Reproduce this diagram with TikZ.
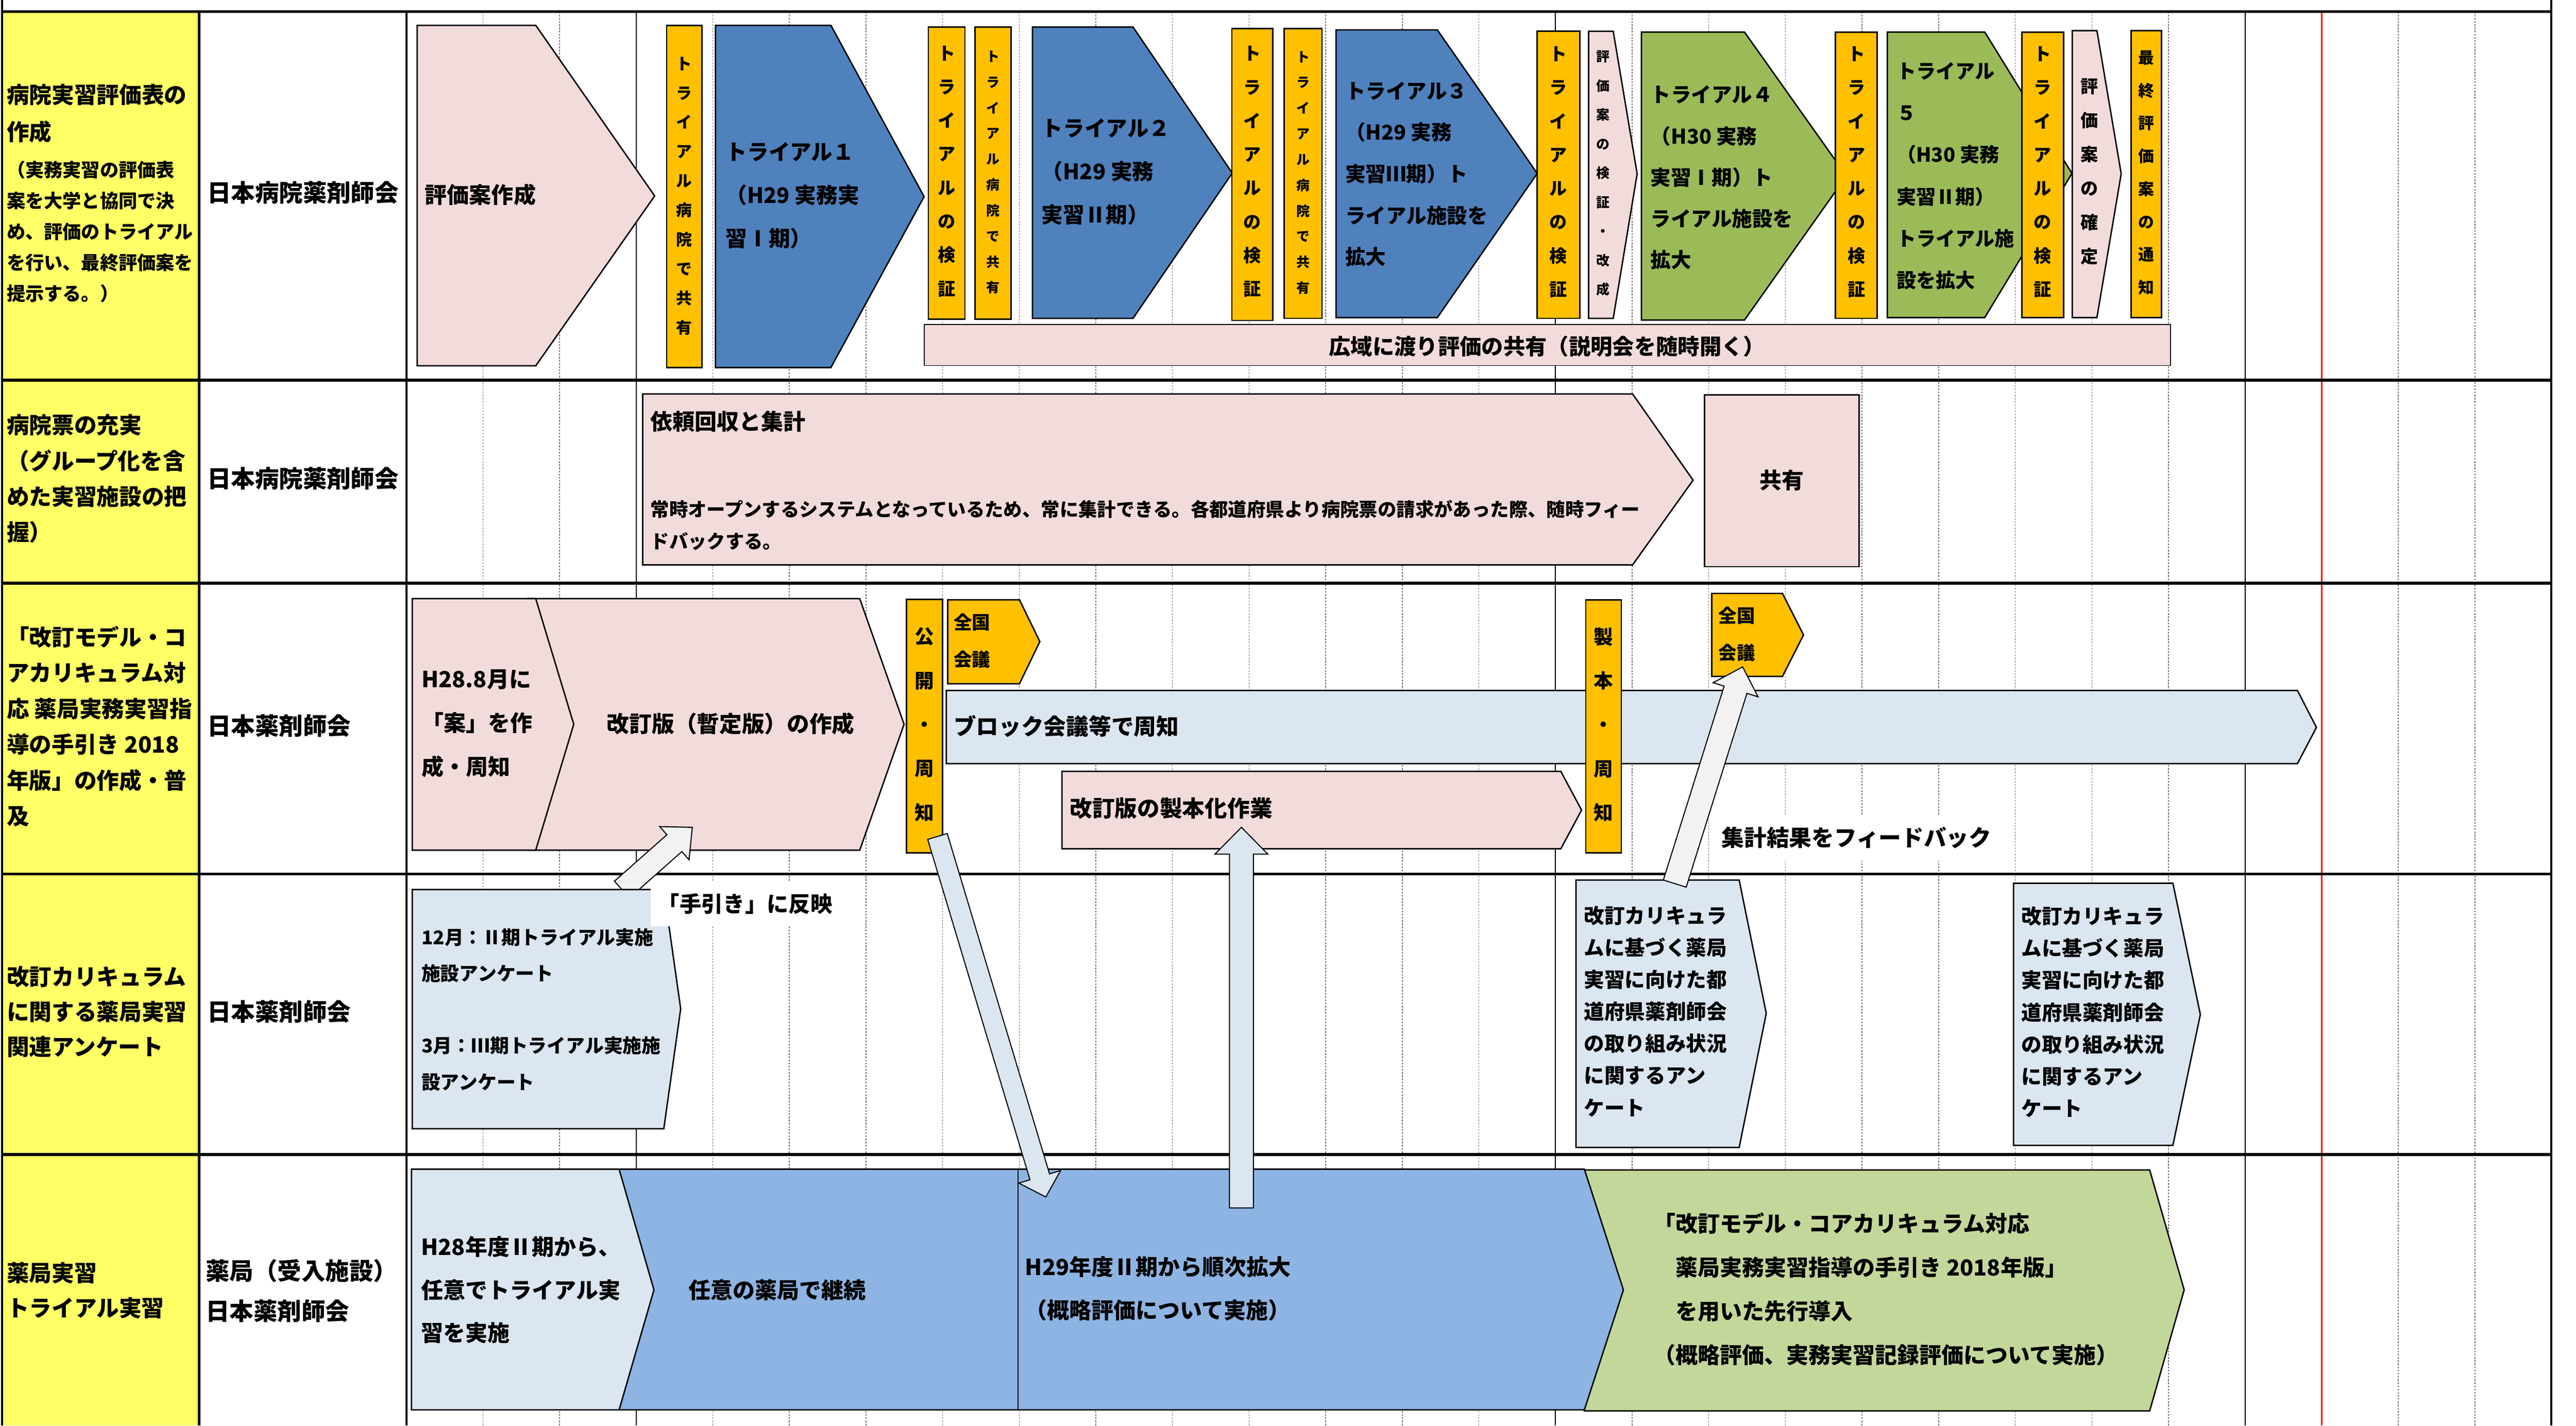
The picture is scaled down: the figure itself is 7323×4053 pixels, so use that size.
\documentclass[tikz,border=0pt]{standalone}
\usepackage{fontspec}
\setmainfont{Noto Sans CJK JP}
\usetikzlibrary{calc}
\definecolor{cYel}{HTML}{FFFF66}
\definecolor{cPink}{HTML}{F2DCDB}
\definecolor{cOra}{HTML}{FFC000}
\definecolor{cBlue}{HTML}{4F81BD}
\definecolor{cGreen}{HTML}{9BBB59}
\definecolor{cLBlue}{HTML}{DCE6F1}
\definecolor{cMBlue}{HTML}{8DB4E2}
\definecolor{cLGreen}{HTML}{C4D79B}
\definecolor{cGray}{HTML}{F2F2F2}
\newcommand\fsz[2]{\fontsize{#1}{#2}\selectfont}
\tikzset{
  shp/.style={draw=black, line width=4pt, line join=miter},
  gridd/.style={draw=black!55, line width=2pt, dash pattern=on 5pt off 4pt},
  grids/.style={draw=black, line width=3pt},
  rowline/.style={draw=black, line width=8pt},
  tl/.style 2 args={inner sep=0pt, anchor=west, align=left, font=\bfseries\fsz{#1}{#2}},
  tv/.style 2 args={inner sep=0pt, anchor=center, align=center, font=\bfseries\fsz{#1}{#2}},
  wbox/.style 2 args={fill=white, inner xsep=20pt, inner ysep=35pt, anchor=west, font=\bfseries\fsz{#1}{#2}},
}
% pentagon: fill, x-left, y-top, y-bottom, x-shoulder, x-tip, y-tip
\newcommand\pentshape[7]{\filldraw[shp, fill=#1] (#2,#3) -- (#5,#3) -- (#6,#7) -- (#5,#4) -- (#2,#4) -- cycle;}
% block arrow: fill, from, to, shaft half width, head half width, head length
\newcommand\blkarrow[6]{%
  \coordinate (bah) at ($(#3)!#6!(#2)$);
  \filldraw[fill=#1, draw=black, line width=3pt, line join=miter]
    ($(#2)!#4!90:(#3)$) -- ($(bah)!#4!90:(#3)$) -- ($(bah)!#5!90:(#3)$) -- (#3)
    -- ($(bah)!#5!-90:(#3)$) -- ($(bah)!#4!-90:(#3)$) -- ($(#2)!#4!-90:(#3)$) -- cycle;}
\begin{document}
\begin{tikzpicture}[x=1pt,y=-1pt]
\useasboundingbox (0,0) rectangle (7323,4053);
% ---------- background grid ----------
\fill[cYel] (6,33) rectangle (566,4053);
\foreach \k in {1,2,4,5,6,7,8,9,10,11,12,13,14,16,17,18,19,20,21,22,23,26,27}
  \draw[gridd] ({1155+217.8*\k},33) -- ({1155+217.8*\k},4053);
\foreach \k in {3,15,24}
  \draw[grids] ({1155+217.8*\k},33) -- ({1155+217.8*\k},4053);
\draw[red, line width=4pt] ({1155+217.8*25},33) -- ({1155+217.8*25},4053);
\draw[line width=6pt] (566,33) -- (566,4053);
\draw[line width=6pt] (1155,33) -- (1155,4053);
\draw[line width=7pt] (6,0) -- (6,4053);
\draw[line width=6pt] (7253,0) -- (7253,4053);
\foreach \yy in {33,1081,1658,2485,3282}
  \draw[rowline] (6,\yy) -- (7253,\yy);

% ---------- label columns ----------
\node[tl={64}{105}] (l1a) at (19,323) {病院実習評価表の\\作成};
\node[tl={53}{88}] (l1b) at (19,659) {（実務実習の評価表\\案を大学と協同で決\\め、評価のトライアル\\を行い、最終評価案を\\提示する。）};
\node[tl={68}{80}] (o1) at (589,548) {日本病院薬剤師会};
\node[tl={64}{101.3}] (l2) at (19,1361) {病院票の充実\\（グループ化を含\\めた実習施設の把\\握）};
\node[tl={68}{80}] (o2) at (589,1361) {日本病院薬剤師会};
\node[tl={64}{101.8}] (l3) at (19,2065) {「改訂モデル・コ\\アカリキュラム対\\応 薬局実務実習指\\導の手引き 2018\\年版」の作成・普\\及};
\node[tl={68}{80}] (o3) at (589,2064) {日本薬剤師会};
\node[tl={64}{100}] (l4) at (19,2876) {改訂カリキュラム\\に関する薬局実習\\関連アンケート};
\node[tl={68}{80}] (o4) at (589,2876) {日本薬剤師会};
\node[tl={64}{100}] (l5) at (19,3669) {薬局実習\\トライアル実習};
\node[tl={68}{115}] (o5) at (585,3670) {薬局（受入施設）\\日本薬剤師会};

% ---------- row 1 ----------
\pentshape{cPink}{1186}{72}{1040}{1523}{1861}{557}
\filldraw[shp, fill=cOra] (1895,72) rectangle (1995,1045);
\pentshape{cBlue}{2034}{72}{1045}{2362}{2627}{559}
\filldraw[shp, fill=cOra] (2639,77) rectangle (2743,907);
\filldraw[shp, fill=cOra] (2772,77) rectangle (2874,907);
\pentshape{cBlue}{2935}{77}{905}{3221}{3503}{492}
\filldraw[shp, fill=cOra] (3502,81) rectangle (3618,911);
\filldraw[shp, fill=cOra] (3650,81) rectangle (3758,905);
\pentshape{cBlue}{3798}{85}{903}{4086}{4370}{493}
\filldraw[shp, fill=cOra] (4370,89) rectangle (4491,905);
\pentshape{cPink}{4516}{89}{905}{4586}{4654}{494}
\pentshape{cGreen}{4666}{91}{910}{4959}{5249}{500}
\filldraw[shp, fill=cOra] (5218,91) rectangle (5336,905);
\pentshape{cGreen}{5365}{91}{903}{5642}{5890}{493}
\filldraw[shp, fill=cOra] (5748,91) rectangle (5866,903);
\pentshape{cPink}{5891}{87}{903}{5961}{6030}{494}
\filldraw[shp, fill=cOra] (6058,87) rectangle (6145,903);
\filldraw[draw=black, line width=2.5pt, fill=cPink] (2627,923) rectangle (6170,1039);

\node[tl={63}{80}] (r1a) at (1208,554) {評価案作成};
\node[tv={45}{83.3}] (r1b) at (1945,557) {ト\\ラ\\イ\\ア\\ル\\病\\院\\で\\共\\有};
\node[tl={61}{123}] (r1c) at (2063,556) {トライアル１\\（H29 実務実\\習Ⅰ期）};
\node[tv={50}{95.6}] (r1d) at (2691,487) {ト\\ラ\\イ\\ア\\ル\\の\\検\\証};
\node[tv={38}{73}] (r1e) at (2823,490) {ト\\ラ\\イ\\ア\\ル\\病\\院\\で\\共\\有};
\node[tl={61}{123}] (r1f) at (2961,488) {トライアル２\\（H29 実務\\実習Ⅱ期）};
\node[tv={50}{95.6}] (r1g) at (3560,488) {ト\\ラ\\イ\\ア\\ル\\の\\検\\証};
\node[tv={38}{73}] (r1h) at (3704,491) {ト\\ラ\\イ\\ア\\ル\\病\\院\\で\\共\\有};
\node[tl={58}{118}] (r1i) at (3824,495) {トライアル３\\（H29 実務\\実習Ⅲ期）ト\\ライアル施設を\\拡大};
\node[tv={50}{95.6}] (r1j) at (4430,489) {ト\\ラ\\イ\\ア\\ル\\の\\検\\証};
\node[tv={38}{82.75}] (r1k) at (4557,493) {評\\価\\案\\の\\検\\証\\・\\改\\成};
\node[tl={58}{117.5}] (r1l) at (4692,505) {トライアル４\\（H30 実務\\実習Ⅰ期）ト\\ライアル施設を\\拡大};
\node[tv={50}{95.6}] (r1m) at (5277,489) {ト\\ラ\\イ\\ア\\ル\\の\\検\\証};
\node[tl={56}{119}] (r1n) at (5391,500) {トライアル\\５\\（H30 実務\\実習Ⅱ期）\\トライアル施\\設を拡大};
\node[tv={50}{95.6}] (r1o) at (5807,489) {ト\\ラ\\イ\\ア\\ル\\の\\検\\証};
\node[tv={50}{96.8}] (r1p) at (5939,488) {評\\価\\案\\の\\確\\定};
\node[tv={45}{93.3}] (r1q) at (6101,491) {最\\終\\評\\価\\案\\の\\通\\知};
\node[tv={62}{80}] (r1r) at (4398,985) {広域に渡り評価の共有（説明会を随時開く）};

% ---------- row 2 ----------
\pentshape{cPink}{1827}{1120}{1606}{4641}{4813}{1365}
\filldraw[shp, fill=cPink] (4846,1123) rectangle (5285,1611);
\node[tl={63}{80}] (r2a) at (1849,1199) {依頼回収と集計};
\node[tl={53.3}{92}] (r2b) at (1849,1493) {常時オープンするシステムとなっているため、常に集計できる。各都道府県より病院票の請求があった際、随時フィー\\ドバックする。};
\node[tv={63}{80}] (r2c) at (5065,1365) {共有};

% ---------- row 3 ----------
\pentshape{cPink}{1500}{1702}{2417}{2444}{2570}{2059}
\pentshape{cPink}{1172}{1702}{2417}{1523}{1631}{2059}
\filldraw[shp, fill=cOra] (2577,1704) rectangle (2679,2425);
\pentshape{cOra}{2694}{1705}{1944}{2898}{2956}{1824}
\pentshape{cLBlue}{2690}{1963}{2171}{6531}{6585}{2068}
\pentshape{cPink}{3019}{2193}{2413}{4437}{4496}{2303}
\filldraw[shp, fill=cOra] (4508,1705) rectangle (4609,2425);
\pentshape{cOra}{4866}{1687}{1923}{5067}{5127}{1805}

\node[tl={63}{124.5}] (r3a) at (1198,2057) {H28.8月に\\「案」を作\\成・周知};
\node[tl={64}{80}] (r3b) at (1725,2057) {改訂版（暫定版）の作成};
\node[tv={55}{125}] (r3c) at (2628,2060) {公\\開\\・\\周\\知};
\node[tl={52}{106}] (r3d) at (2711,1822) {全国\\会議};
\node[tl={64}{80}] (r3e) at (2711,2065) {ブロック会議等で周知};
\node[tl={64}{80}] (r3f) at (3041,2298) {改訂版の製本化作業};
\node[tv={55}{125}] (r3g) at (4558,2060) {製\\本\\・\\周\\知};
\node[tl={52}{106}] (r3h) at (4885,1803) {全国\\会議};
\node[wbox={64}{80}] (r3i) at (4874,2382) {集計結果をフィードバック};

% ---------- row 4 ----------
\coordinate (a1s) at (1768,2529);
\coordinate (a1e) at (1968,2352);
\blkarrow{cGray}{a1s}{a1e}{32pt}{63pt}{68pt}
\pentshape{cLBlue}{1172}{2529}{3209}{1887}{1935}{2868}
\pentshape{cLBlue}{4480}{2502}{3262}{4944}{5021}{2881}
\pentshape{cLBlue}{5724}{2511}{3256}{6177}{6255}{2884}
\node[tl={54}{103}] (r4a) at (1198,2870) {12月：Ⅱ期トライアル実施\\施設アンケート\\\mbox{}\\3月：Ⅲ期トライアル実施施\\設アンケート};
\node[wbox={62}{80}] (r4b) at (1850,2569) {「手引き」に反映};
\node[tl={58}{91}] (r4c) at (4503,2875) {改訂カリキュラ\\ムに基づく薬局\\実習に向けた都\\道府県薬剤師会\\の取り組み状況\\に関するアン\\ケート};
\node[tl={58}{91}] (r4d) at (5746,2877) {改訂カリキュラ\\ムに基づく薬局\\実習に向けた都\\道府県薬剤師会\\の取り組み状況\\に関するアン\\ケート};

% ---------- row 5 ----------
\pentshape{cLGreen}{4504}{3326}{4011}{6111}{6209}{3667}
\pentshape{cMBlue}{1700}{3324}{4008}{4504}{4615}{3667}
\draw[line width=2pt] (2894,3324) -- (2894,4008);
\pentshape{cLBlue}{1170}{3324}{4008}{1760}{1859}{3667}
\node[tl={63}{122.5}] (r5a) at (1197,3667) {H28年度Ⅱ期から、\\任意でトライアル実\\習を実施};
\node[tl={63}{80}] (r5b) at (1957,3667) {任意の薬局で継続};
\node[tl={63}{123}] (r5c) at (2914,3663) {H29年度Ⅱ期から順次拡大\\（概略評価について実施）};
\node[tl={63}{124.7}] (r5d) at (4700,3665) {「改訂モデル・コアカリキュラム対応\\　薬局実務実習指導の手引き 2018年版」\\　を用いた先行導入\\（概略評価、実務実習記録評価について実施）};

% ---------- block arrows ----------
\coordinate (a2s) at (2665,2378);
\coordinate (a2e) at (2973,3403);
\blkarrow{cLBlue}{a2s}{a2e}{29pt}{62pt}{60pt}
\coordinate (a3s) at (3529,3434);
\coordinate (a3e) at (3529,2352);
\blkarrow{cLBlue}{a3s}{a3e}{34pt}{75pt}{76pt}
\coordinate (a4s) at (4761,2512);
\coordinate (a4e) at (4954,1896);
\blkarrow{cGray}{a4s}{a4e}{34pt}{67pt}{68pt}
\end{tikzpicture}
\end{document}
